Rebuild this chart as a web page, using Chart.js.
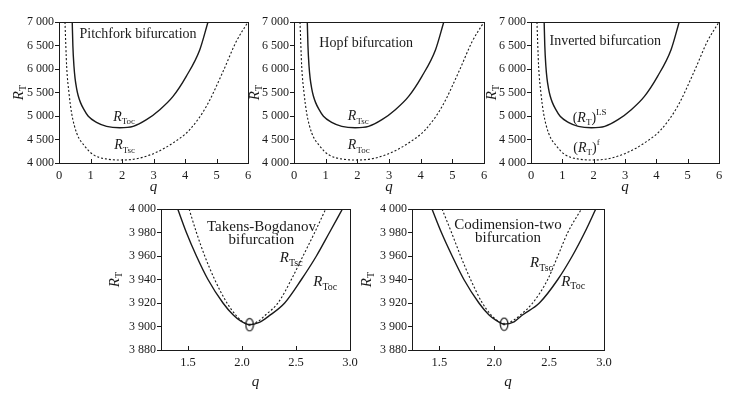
<!DOCTYPE html>
<html><head><meta charset="utf-8">
<script src="https://cdn.jsdelivr.net/npm/chart.js@4"></script>
<style>
body{margin:0;background:#fff;width:753px;height:395px;position:relative;overflow:hidden}
canvas{position:absolute}
</style></head><body>
<canvas id="c1"></canvas><canvas id="c2"></canvas><canvas id="c3"></canvas><canvas id="c4"></canvas><canvas id="c5"></canvas>
<script>
// ---- tick values and labels ----
const topQTicks = [0, 1, 2, 3, 4, 5, 6];
const topQLabels = ['0', '1', '2', '3', '4', '5', '6'];
const topRTicks = [4000, 4500, 5000, 5500, 6000, 6500, 7000];
const topRLabels = ['4 000', '4 500', '5 000', '5 500', '6 000', '6 500', '7 000'];
const botQTicks = [1.5, 2.0, 2.5, 3.0];
const botQLabels = ['1.5', '2.0', '2.5', '3.0'];
const botRTicks = [3880, 3900, 3920, 3940, 3960, 3980, 4000];
const botRLabels = ['3 880', '3 900', '3 920', '3 940', '3 960', '3 980', '4 000'];

// ---- top panels: upper (solid) curve ----
const upperQ = [0.42, 0.44, 0.475, 0.51, 0.555, 0.61, 0.68, 0.78, 0.93, 1.19, 1.51, 1.93, 2.355, 2.777, 3.2, 3.62, 4.04, 4.47, 4.73];
const upperR = [7000, 6500, 6057, 5800, 5600, 5430, 5290, 5150, 4993, 4865, 4780, 4750, 4780, 4922, 5135, 5418, 5844, 6411, 7000];
// ---- top panels: lower (dotted) curve ----
const lowerQ = [0.19, 0.243, 0.317, 0.40, 0.56, 0.82, 1.09, 1.51, 2.04, 2.57, 3.09, 3.62, 4.15, 4.68, 5.21, 5.63, 6.0];
const lowerR = [7000, 6057, 5490, 5064, 4638, 4355, 4177, 4085, 4064, 4106, 4227, 4426, 4709, 5206, 5950, 6589, 7000];

// ---- Takens-Bogdanov ----
const tbTocQ = [1.405, 1.485, 1.578, 1.685, 1.824, 1.917, 1.99, 2.07, 2.16, 2.25, 2.395, 2.55, 2.689, 2.81, 2.93];
const tbTocR = [4000, 3980, 3960, 3940, 3920, 3910, 3904.5, 3901.5, 3903.5, 3909, 3920, 3940, 3960, 3980, 4000];
const tbTscQ = [1.51, 1.578, 1.655, 1.747, 1.861, 1.94, 2.0, 2.07, 2.15, 2.22, 2.333, 2.457, 2.565, 2.673, 2.775];
const tbTscR = [4000, 3980, 3960, 3940, 3920, 3910, 3904.5, 3901.5, 3904.5, 3910, 3920, 3940, 3960, 3980, 4000];
const tbPointQ = [2.07];
const tbPointR = [3901.5];

// ---- Codimension-two ----
const c2TocQ = [1.432, 1.518, 1.616, 1.723, 1.86, 1.95, 2.02, 2.09, 2.18, 2.26, 2.411, 2.579, 2.711, 2.824, 2.925];
const c2TocR = [4000, 3980, 3960, 3940, 3920, 3910, 3905, 3902, 3904, 3910, 3920, 3940, 3960, 3980, 4000];
const c2TscQ = [1.524, 1.61, 1.693, 1.784, 1.891, 1.97, 2.03, 2.09, 2.17, 2.24, 2.35, 2.487, 2.579, 2.67, 2.794];
const c2TscR = [4000, 3980, 3960, 3940, 3920, 3910, 3905, 3902, 3905, 3910, 3920, 3940, 3960, 3980, 4000];
const c2PointQ = [2.09];
const c2PointR = [3902];

const FONT = '"Liberation Serif", "Times New Roman", serif';
const INK = '#1a1a1a';

function pts(qs, rs) { return qs.map((q, i) => ({ x: q, y: rs[i] })); }

function ellipseImg() {
  const c = document.createElement('canvas');
  c.width = 10; c.height = 15;
  const g = c.getContext('2d');
  g.strokeStyle = '#000'; g.lineWidth = 1.1;
  g.beginPath(); g.ellipse(5, 7.5, 3.8, 6.3, 0, 0, Math.PI * 2); g.stroke();
  g.fillStyle = '#000'; g.beginPath(); g.arc(5, 7.5, 1.1, 0, Math.PI * 2); g.fill();
  return c;
}

function fontFor(s, size) {
  const sz = s.s ? Math.round(size * 0.66) : size;
  return (s.i ? 'italic ' : '') + sz + 'px ' + FONT;
}
function richWidth(ctx, segs, size) {
  let w = 0;
  segs.forEach(s => { ctx.font = fontFor(s, size); w += ctx.measureText(s.t).width; });
  return w;
}
function drawRich(ctx, segs, x, y, size, align) {
  const w = richWidth(ctx, segs, size);
  let cx = align === 'center' ? x - w / 2 : x;
  ctx.textBaseline = 'middle'; ctx.textAlign = 'left'; ctx.fillStyle = INK;
  segs.forEach(s => {
    ctx.font = fontFor(s, size);
    let dy = 0;
    if (s.s === 'sub') dy = size * 0.32;
    if (s.s === 'sup') dy = -size * 0.38;
    ctx.fillText(s.t, cx, y + dy);
    cx += ctx.measureText(s.t).width;
  });
}

const RT = [{ t: 'R', i: true }, { t: 'T', s: 'sub' }];
const lab = (sub) => [{ t: 'R', i: true }, { t: sub, s: 'sub' }];

const framePlugin = {
  id: 'frame',
  afterDatasetsDraw(chart, args, o) {
    const ctx = chart.ctx, a = chart.chartArea;
    const xs = chart.scales.x, ys = chart.scales.y;
    ctx.save();
    ctx.strokeStyle = INK; ctx.lineWidth = 1;
    ctx.strokeRect(Math.round(a.left) + 0.5, Math.round(a.top) + 0.5, Math.round(a.right - a.left), Math.round(a.bottom - a.top));
    ctx.beginPath();
    o.qTicks.forEach(v => {
      if (v <= xs.min || v >= xs.max) return;
      const px = Math.round(xs.getPixelForValue(v)) + 0.5;
      ctx.moveTo(px, a.bottom); ctx.lineTo(px, a.bottom - 4);
    });
    ctx.stroke();
    ctx.font = 'italic 15px ' + FONT; ctx.fillStyle = INK; ctx.textAlign = 'center'; ctx.textBaseline = 'middle';
    ctx.fillText('q', (a.left + a.right) / 2, a.bottom + o.qTitleOffset);
    ctx.save();
    ctx.translate(a.left - o.rTitleOffset, (a.top + a.bottom) / 2);
    ctx.rotate(-Math.PI / 2);
    drawRich(ctx, RT, 0, 0, 15, 'center');
    ctx.restore();
    o.notes.forEach(n => {
      drawRich(ctx, n.segs, xs.getPixelForValue(n.q), ys.getPixelForValue(n.r), n.size || o.noteSize || 14, n.align || 'left');
    });
    ctx.restore();
  }
};

function makePanel(id, box, cfg) {
  const cv = document.getElementById(id);
  cv.width = box.w; cv.height = box.h;
  cv.style.left = box.left + 'px'; cv.style.top = box.top + 'px';
  cv.style.width = box.w + 'px'; cv.style.height = box.h + 'px';
  const datasets = cfg.series.map(s => ({
    data: s.data,
    showLine: !s.marker,
    borderColor: INK,
    backgroundColor: INK,
    borderWidth: s.dotted ? 1.1 : 1.4,
    borderDash: s.dotted ? [2, 2] : [],
    pointRadius: s.marker ? 6 : 0,
    pointStyle: s.marker ? ellipseImg() : 'circle',
    cubicInterpolationMode: 'monotone',
    fill: false
  }));
  new Chart(cv, {
    type: 'scatter',
    data: { datasets },
    options: {
      responsive: false, animation: false, devicePixelRatio: 1,
      layout: { autoPadding: false, padding: { top: 22, right: box.padRight, left: 0, bottom: 0 } },
      plugins: { legend: { display: false }, tooltip: { enabled: false }, frame: cfg.frame },
      scales: {
        x: {
          type: 'linear', min: cfg.qMin, max: cfg.qMax,
          afterBuildTicks: s => { s.ticks = cfg.qTicks.map(v => ({ value: v })); },
          afterFit: s => { s.height = box.h - 22 - 141; s.paddingLeft = 0; s.paddingRight = 0; },
          grid: { display: false, drawTicks: false },
          border: { display: false },
          ticks: { padding: 5, color: INK, font: { family: FONT, size: 12.5 }, maxRotation: 0, autoSkip: false,
            callback: (v, i) => cfg.qLabels[i] }
        },
        y: {
          type: 'linear', min: cfg.rMin, max: cfg.rMax,
          afterBuildTicks: s => { s.ticks = cfg.rTicks.map(v => ({ value: v })); },
          afterFit: s => { s.width = 59; s.paddingTop = 0; s.paddingBottom = 0; },
          grid: { display: true, drawOnChartArea: false, drawTicks: true, tickLength: 4, color: INK },
          border: { display: false },
          ticks: { padding: 1, color: INK, font: { family: FONT, size: 12 }, autoSkip: false,
            callback: (v, i) => cfg.rLabels[i] }
        }
      }
    },
    plugins: [framePlugin]
  });
}

const topBase = { qMin: 0, qMax: 6, rMin: 4000, rMax: 7000, qTicks: topQTicks, qLabels: topQLabels, rTicks: topRTicks, rLabels: topRLabels };
const botBase = { qMin: 1.25, qMax: 3.0, rMin: 3880, rMax: 4000, qTicks: botQTicks, qLabels: botQLabels, rTicks: botRTicks, rLabels: botRLabels };

makePanel('c1', { left: 0, top: 0, w: 262, h: 210, padRight: 14 }, Object.assign({}, topBase, {
  series: [{ data: pts(upperQ, upperR) }, { data: pts(lowerQ, lowerR), dotted: true }],
  frame: { qTicks: topQTicks, qTitleOffset: 24, rTitleOffset: 40, noteSize: 14, notes: [
    { q: 2.51, r: 6745, segs: [{ t: 'Pitchfork bifurcation' }], align: 'center' },
    { q: 1.72, r: 4978, segs: lab('Toc') },
    { q: 1.75, r: 4368, segs: lab('Tsc') }
  ] }
}));
makePanel('c2', { left: 235, top: 0, w: 263, h: 210, padRight: 14 }, Object.assign({}, topBase, {
  series: [{ data: pts(upperQ, upperR) }, { data: pts(lowerQ, lowerR), dotted: true }],
  frame: { qTicks: topQTicks, qTitleOffset: 24, rTitleOffset: 39, noteSize: 14, notes: [
    { q: 2.28, r: 6546, segs: [{ t: 'Hopf bifurcation' }], align: 'center' },
    { q: 1.70, r: 4985, segs: lab('Tsc') },
    { q: 1.70, r: 4368, segs: lab('Toc') }
  ] }
}));
makePanel('c3', { left: 472, top: 0, w: 261, h: 210, padRight: 14 }, Object.assign({}, topBase, {
  series: [{ data: pts(upperQ, upperR) }, { data: pts(lowerQ, lowerR), dotted: true }],
  frame: { qTicks: topQTicks, qTitleOffset: 24, rTitleOffset: 39, noteSize: 14, notes: [
    { q: 2.37, r: 6581, segs: [{ t: 'Inverted bifurcation' }], align: 'center' },
    { q: 1.33, r: 4950, segs: [{ t: '(' }, { t: 'R', i: true }, { t: 'T', s: 'sub' }, { t: ')' }, { t: 'LS', s: 'sup' }] },
    { q: 1.35, r: 4312, segs: [{ t: '(' }, { t: 'R', i: true }, { t: 'T', s: 'sub' }, { t: ')' }, { t: 'f', s: 'sup' }] }
  ] }
}));
makePanel('c4', { left: 102, top: 187, w: 262, h: 210, padRight: 14 }, Object.assign({}, botBase, {
  series: [{ data: pts(tbTocQ, tbTocR) }, { data: pts(tbTscQ, tbTscR), dotted: true }, { data: pts(tbPointQ, tbPointR), marker: true }],
  frame: { qTicks: botQTicks, qTitleOffset: 32, rTitleOffset: 46, noteSize: 15, notes: [
    { q: 2.18, r: 3984.4, segs: [{ t: 'Takens-Bogdanov' }], align: 'center' },
    { q: 2.18, r: 3973.4, segs: [{ t: 'bifurcation' }], align: 'center' },
    { q: 2.35, r: 3958, segs: lab('Tsc') },
    { q: 2.66, r: 3937.6, segs: lab('Toc') }
  ] }
}));
makePanel('c5', { left: 353, top: 187, w: 265, h: 210, padRight: 14 }, Object.assign({}, botBase, {
  series: [{ data: pts(c2TocQ, c2TocR) }, { data: pts(c2TscQ, c2TscR), dotted: true }, { data: pts(c2PointQ, c2PointR), marker: true }],
  frame: { qTicks: botQTicks, qTitleOffset: 32, rTitleOffset: 45, noteSize: 15, notes: [
    { q: 2.125, r: 3986.4, segs: [{ t: 'Codimension-two' }], align: 'center' },
    { q: 2.125, r: 3975, segs: [{ t: 'bifurcation' }], align: 'center' },
    { q: 2.326, r: 3953.8, segs: lab('Tsc') },
    { q: 2.61, r: 3938, segs: lab('Toc') }
  ] }
}));
</script>
</body></html>
